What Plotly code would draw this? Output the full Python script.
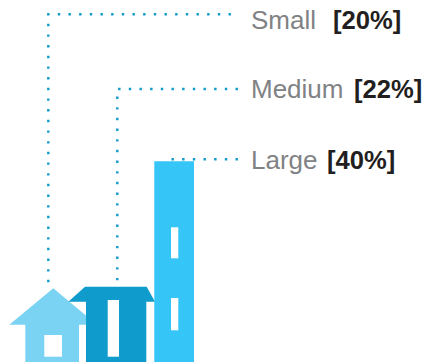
import plotly.graph_objects as go

# Housing size shares
categories = ["Small", "Medium", "Large"]
shares = [20, 22, 40]

SKY = "#7bd3f3"
TEAL = "#0f9bcb"
AZURE = "#35c5f6"
WHITE = "#ffffff"
GREY = "#808285"
INK = "#231f20"


def polygon(xs, ys, color):
    return go.Scatter(x=xs, y=ys, mode="lines", fill="toself", fillcolor=color,
                      line=dict(width=0, color=color), hoverinfo="skip")


def rect(x0, x1, y0, y1, color):
    return polygon([x0, x1, x1, x0, x0], [y0, y0, y1, y1, y0], color)


def leader(xs, ys):
    return go.Scatter(x=xs, y=ys, mode="lines", hoverinfo="skip",
                      line=dict(color=TEAL, width=2.4, dash="2.4px,8.27px"))


fig = go.Figure()

# Small: a house
fig.add_trace(polygon([53.3, 9.3, 25.3, 25.3, 79, 79, 97],
                      [288.3, 324.7, 324.7, 362, 362, 324.7, 324.7], SKY))
fig.add_trace(rect(44.3, 62, 335, 356.7, WHITE))

# Medium: an apartment block
fig.add_trace(polygon([85, 146.7, 155, 146.3, 146.3, 86, 86, 68.3],
                      [286.7, 286.7, 301.7, 301.7, 362, 362, 301.7, 301.7], TEAL))
fig.add_trace(rect(107.7, 119, 300, 356.7, WHITE))

# Large: a tower
fig.add_trace(rect(154.3, 194, 161.3, 362, AZURE))
fig.add_trace(rect(171, 178.3, 227.3, 258.3, WHITE))
fig.add_trace(rect(171, 178.3, 298, 330.3, WHITE))

# Dotted leaders from each building to its label
fig.add_trace(leader([230.9, 48.3, 48.3], [14.3, 14.3, 284]))
fig.add_trace(leader([237.9, 117], [89, 89]))
fig.add_trace(leader([117.3, 117.3], [96.5, 281]))
fig.add_trace(leader([237.9, 170.5], [159.3, 159.3]))

label_x = [251, 251, 251]
value_x = [333, 354, 327]
text_y = [19.5, 89, 159.5]

for name, share, lx, vx, y in zip(categories, shares, label_x, value_x, text_y):
    fig.add_annotation(x=lx, y=y, text=name, showarrow=False, xanchor="left", yanchor="middle",
                       font=dict(family="Liberation Sans", size=26, color=GREY))
    fig.add_annotation(x=vx, y=y, text=f"<b>[{share}%]</b>", showarrow=False, xanchor="left",
                       yanchor="middle", font=dict(family="Liberation Sans", size=25.6, color=INK))

fig.update_annotations(borderpad=0, borderwidth=0)
fig.update_layout(
    width=427, height=364, margin=dict(l=0, r=0, t=0, b=0),
    paper_bgcolor=WHITE, plot_bgcolor=WHITE, showlegend=False,
    xaxis=dict(range=[0, 427], visible=False, fixedrange=True),
    yaxis=dict(range=[364, 0], visible=False, fixedrange=True),
)

fig.write_html("out.html", config={"displayModeBar": False})
